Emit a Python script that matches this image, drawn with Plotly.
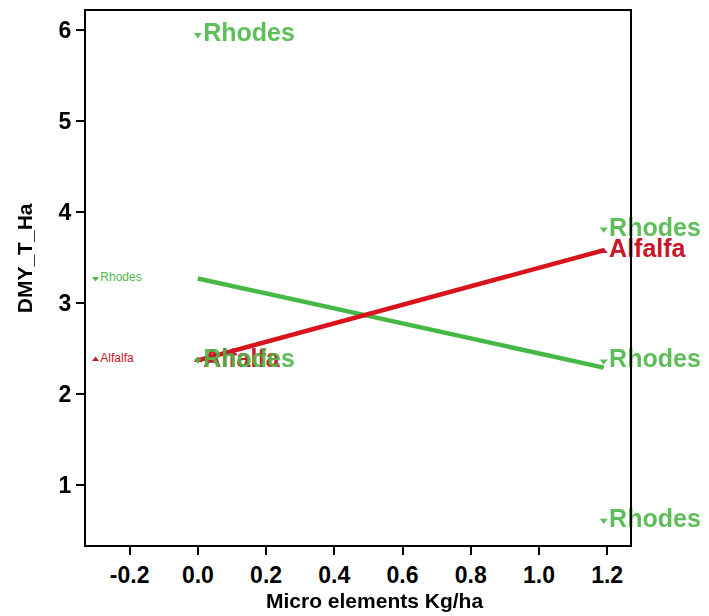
import plotly.graph_objects as go

# --- data ---
rhodes_x = [0.0, 0.0, 1.19, 1.19, 1.19]
rhodes_y = [5.95, 2.37, 3.81, 2.36, 0.61]
alfalfa_x = [0.0, 1.19]
alfalfa_y = [2.37, 3.57]
rhodes_fit_x = [0.0, 1.19]
rhodes_fit_y = [3.27, 2.29]
alfalfa_fit_x = [0.0, 1.19]
alfalfa_fit_y = [2.37, 3.58]
key_x = [-0.3, -0.3]
key_y = [3.27, 2.38]
key_labels = ["Rhodes", "Alfalfa"]
x_ticks = [-0.2, 0.0, 0.2, 0.4, 0.6, 0.8, 1.0, 1.2]
y_ticks = [1, 2, 3, 4, 5, 6]

GREEN = "#4CB848"
GREEN_LINE = "#45B845"
RED = "#C8172B"
RED_LINE = "#D8131B"
FONT = "Liberation Sans, Arial, sans-serif"

fig = go.Figure()

# fitted lines
fig.add_trace(go.Scatter(x=rhodes_fit_x, y=rhodes_fit_y, mode="lines",
                         line=dict(color=GREEN_LINE, width=4.5), showlegend=False))
fig.add_trace(go.Scatter(x=alfalfa_fit_x, y=alfalfa_fit_y, mode="lines",
                         line=dict(color=RED_LINE, width=4.5), showlegend=False))

# labelled points
fig.add_trace(go.Scatter(x=alfalfa_x, y=alfalfa_y, mode="markers+text",
                         text=["Alfalfa"] * len(alfalfa_x), textposition="middle right",
                         marker=dict(symbol="triangle-up", size=7, color=RED),
                         textfont=dict(family=FONT, size=25, color=RED, weight="bold"),
                         cliponaxis=False, showlegend=False))
fig.add_trace(go.Scatter(x=rhodes_x, y=rhodes_y, mode="markers+text",
                         text=["Rhodes"] * len(rhodes_x), textposition="middle right",
                         marker=dict(symbol="triangle-down", size=7, color=GREEN),
                         textfont=dict(family=FONT, size=25, color=GREEN, weight="bold"),
                         opacity=0.9, cliponaxis=False, showlegend=False))

# small key labels
fig.add_trace(go.Scatter(x=key_x, y=key_y, mode="markers+text",
                         text=key_labels, textposition="middle right",
                         marker=dict(symbol=["triangle-down", "triangle-up"], size=6,
                                     color=[GREEN, RED]),
                         textfont=dict(family=FONT, size=12, color=[GREEN, RED]),
                         cliponaxis=False, showlegend=False))

axis_common = dict(showgrid=False, zeroline=False, showline=True, linecolor="black",
                   linewidth=2, mirror=True, ticks="outside", ticklen=8, tickwidth=2,
                   tickcolor="black",
                   tickfont=dict(family=FONT, size=23, color="black", weight="bold"))

fig.update_layout(
    width=709, height=616,
    margin=dict(l=86, r=79, t=9, b=71),
    paper_bgcolor="white", plot_bgcolor="white",
    xaxis=dict(range=[-0.328, 1.267], tickvals=x_ticks,
               ticktext=[f"{v:.1f}" for v in x_ticks], **axis_common),
    yaxis=dict(range=[0.34, 6.21], tickvals=y_ticks, **axis_common),
    annotations=[
        dict(text="Micro elements Kg/ha", xref="paper", yref="paper",
             x=0.531, y=-0.1045, xanchor="center", yanchor="middle", showarrow=False,
             font=dict(family=FONT, size=21, color="black", weight="bold")),
        dict(text="DMY_T_Ha", xref="paper", yref="paper", textangle=-90,
             x=-0.114, y=0.537, xanchor="center", yanchor="middle", showarrow=False,
             font=dict(family=FONT, size=21, color="black", weight="bold")),
    ],
)

fig.write_html("out.html")
